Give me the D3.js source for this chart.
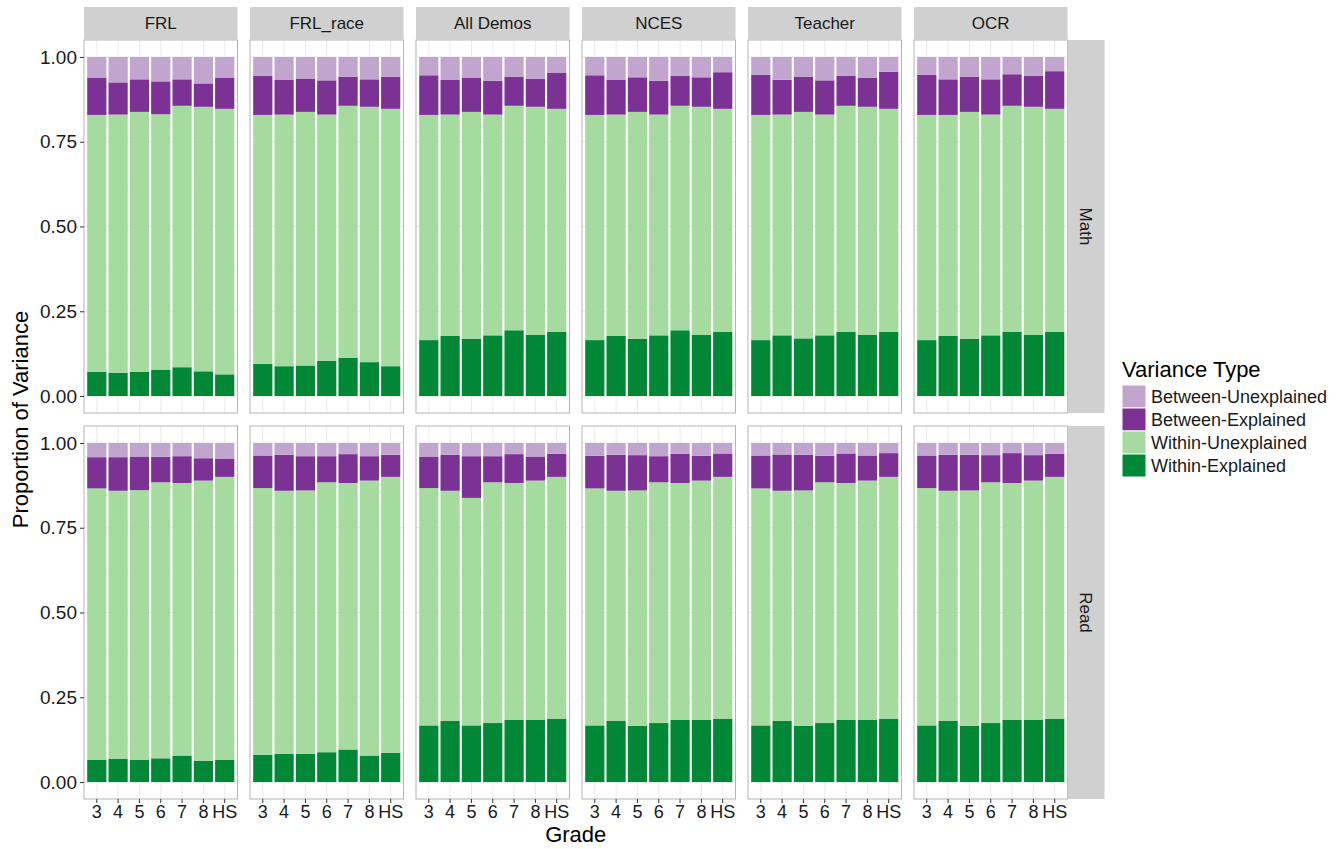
<!DOCTYPE html>
<html>
<head>
<meta charset="utf-8">
<script src="https://cdn.jsdelivr.net/npm/d3@7"></script>
<style>
  body { margin: 0; background: #fff; }
  svg { display: block; font-family: "Liberation Sans", Arial, sans-serif; }
</style>
</head>
<body>
<svg id="chart" width="1343" height="849"></svg>
<script>
// Facets and categories
const grades = ["3", "4", "5", "6", "7", "8", "HS"];
const models = ["FRL", "FRL_race", "All Demos", "NCES", "Teacher", "OCR"];
const subjects = ["Math", "Read"];
const varianceTypes = ["Between-Unexplained", "Between-Explained", "Within-Unexplained", "Within-Explained"];
const typeColors = ["#c2a5cf", "#7b3294", "#a6dba0", "#008837"];
const yTicks = [0, 0.25, 0.5, 0.75, 1];

// Cumulative tops of each stacked segment
// we = top of Within-Explained, wu = top of Within-Unexplained, be = top of Between-Explained
const mathWE = {
  "FRL":       [0.072, 0.069, 0.071, 0.078, 0.085, 0.073, 0.064],
  "FRL_race":  [0.095, 0.088, 0.090, 0.104, 0.113, 0.100, 0.088],
  "All Demos": [0.165, 0.178, 0.169, 0.179, 0.194, 0.180, 0.190],
  "NCES":      [0.165, 0.178, 0.169, 0.179, 0.194, 0.180, 0.190],
  "Teacher":   [0.165, 0.179, 0.170, 0.179, 0.190, 0.180, 0.190],
  "OCR":       [0.165, 0.178, 0.169, 0.179, 0.190, 0.180, 0.190]
};
const mathWU = {
  "FRL":       [0.829, 0.830, 0.838, 0.831, 0.856, 0.853, 0.847],
  "FRL_race":  [0.829, 0.830, 0.838, 0.830, 0.856, 0.853, 0.847],
  "All Demos": [0.829, 0.830, 0.838, 0.830, 0.856, 0.853, 0.847],
  "NCES":      [0.829, 0.830, 0.838, 0.830, 0.856, 0.853, 0.847],
  "Teacher":   [0.829, 0.830, 0.838, 0.830, 0.856, 0.853, 0.847],
  "OCR":       [0.829, 0.829, 0.838, 0.830, 0.856, 0.853, 0.847]
};
const mathBE = {
  "FRL":       [0.938, 0.925, 0.934, 0.928, 0.934, 0.922, 0.938],
  "FRL_race":  [0.945, 0.932, 0.935, 0.931, 0.942, 0.934, 0.942],
  "All Demos": [0.946, 0.932, 0.938, 0.930, 0.942, 0.936, 0.954],
  "NCES":      [0.946, 0.932, 0.940, 0.930, 0.944, 0.940, 0.955],
  "Teacher":   [0.947, 0.933, 0.941, 0.931, 0.945, 0.939, 0.956],
  "OCR":       [0.947, 0.934, 0.941, 0.934, 0.949, 0.944, 0.958]
};
const readWE = {
  "FRL":       [0.066, 0.069, 0.065, 0.070, 0.078, 0.063, 0.066],
  "FRL_race":  [0.081, 0.083, 0.083, 0.088, 0.096, 0.078, 0.086],
  "All Demos": [0.167, 0.180, 0.167, 0.174, 0.183, 0.183, 0.187],
  "NCES":      [0.167, 0.180, 0.166, 0.174, 0.183, 0.183, 0.187],
  "Teacher":   [0.167, 0.180, 0.166, 0.174, 0.183, 0.183, 0.187],
  "OCR":       [0.167, 0.180, 0.166, 0.174, 0.183, 0.183, 0.187]
};
const readWU = {
  "FRL":       [0.866, 0.859, 0.861, 0.884, 0.882, 0.889, 0.900],
  "FRL_race":  [0.867, 0.859, 0.860, 0.884, 0.882, 0.889, 0.900],
  "All Demos": [0.867, 0.859, 0.838, 0.884, 0.882, 0.889, 0.900],
  "NCES":      [0.866, 0.859, 0.860, 0.884, 0.882, 0.889, 0.900],
  "Teacher":   [0.866, 0.859, 0.860, 0.884, 0.882, 0.889, 0.900],
  "OCR":       [0.867, 0.859, 0.860, 0.884, 0.882, 0.889, 0.900]
};
const readBE = {
  "FRL":       [0.958, 0.958, 0.960, 0.959, 0.961, 0.955, 0.954],
  "FRL_race":  [0.963, 0.965, 0.961, 0.961, 0.967, 0.961, 0.965],
  "All Demos": [0.960, 0.965, 0.961, 0.961, 0.967, 0.960, 0.968],
  "NCES":      [0.962, 0.965, 0.964, 0.961, 0.968, 0.962, 0.969],
  "Teacher":   [0.963, 0.966, 0.965, 0.962, 0.969, 0.963, 0.970],
  "OCR":       [0.963, 0.965, 0.965, 0.964, 0.970, 0.964, 0.968]
};

const boundsBySubject = {
  Math: { we: mathWE, wu: mathWU, be: mathBE },
  Read: { we: readWE, wu: readWU, be: readBE }
};

const svg = d3.select("#chart");
const font_color = "#1a1a1a";
const tick_color = "#333333";
const small_size = 18, title_size = 22;

// Panel layout
const panelLeft = 84, panelStep = 166, panelW = 153.5;
const stripTop = 7, stripH = 33;
const rowTops = [40, 426], panelH = 373;
const rightStripW = 37;

const color = d3.scaleOrdinal().domain(varianceTypes).range(typeColors);

// Build segment rows from the cumulative tops
function segments(subject, model) {
  const b = boundsBySubject[subject];
  return grades.map((g, i) => {
    const we = b.we[model][i], wu = b.wu[model][i], be = b.be[model][i];
    return [
      { grade: g, type: "Within-Explained", y0: 0, y1: we },
      { grade: g, type: "Within-Unexplained", y0: we, y1: wu },
      { grade: g, type: "Between-Explained", y0: wu, y1: be },
      { grade: g, type: "Between-Unexplained", y0: be, y1: 1 }
    ];
  }).flat();
}

const x = d3.scaleBand().domain(grades).range([0, panelW]).paddingInner(0.1).paddingOuter(0.15);

subjects.forEach((subject, r) => {
  const top = rowTops[r];
  const y = d3.scaleLinear().domain([-0.05, 1.05]).range([top + panelH, top]);

  models.forEach((model, c) => {
    const left = panelLeft + c * panelStep;
    const g = svg.append("g").attr("transform", `translate(${left},0)`);

    // background + grid
    g.append("rect").attr("x", 0).attr("y", top).attr("width", panelW).attr("height", panelH)
      .attr("fill", "#ffffff");
    g.selectAll(".minor").data([0.125, 0.375, 0.625, 0.875]).join("line")
      .attr("x1", 0).attr("x2", panelW).attr("y1", d => y(d)).attr("y2", d => y(d))
      .attr("stroke", "#f2f2f2").attr("stroke-width", 0.5);
    g.selectAll(".major").data(yTicks).join("line")
      .attr("x1", 0).attr("x2", panelW).attr("y1", d => y(d)).attr("y2", d => y(d))
      .attr("stroke", "#ebebeb").attr("stroke-width", 1);
    g.selectAll(".vgrid").data(grades).join("line")
      .attr("x1", d => x(d) + x.bandwidth() / 2).attr("x2", d => x(d) + x.bandwidth() / 2)
      .attr("y1", top).attr("y2", top + panelH)
      .attr("stroke", "#ebebeb").attr("stroke-width", 1);

    // bars
    g.selectAll(".seg").data(segments(subject, model)).join("rect")
      .attr("x", d => x(d.grade))
      .attr("width", x.bandwidth())
      .attr("y", d => y(d.y1))
      .attr("height", d => y(d.y0) - y(d.y1))
      .attr("fill", d => color(d.type));

    // border
    g.append("rect").attr("x", 0).attr("y", top).attr("width", panelW).attr("height", panelH)
      .attr("fill", "none").attr("stroke", "#b5b5b5").attr("stroke-width", 1);

    // top strip
    if (r === 0) {
      g.append("rect").attr("x", 0).attr("y", stripTop).attr("width", panelW).attr("height", stripH)
        .attr("fill", "#d0d0d0");
      g.append("text").attr("x", panelW / 2).attr("y", stripTop + stripH / 2)
        .attr("dy", "0.35em").attr("text-anchor", "middle")
        .attr("font-size", small_size - 1).attr("fill", font_color).text(model);
    }

    // x axis at bottom row
    if (r === subjects.length - 1) {
      const xAxis = g.append("g").attr("transform", `translate(0,${top + panelH})`)
        .call(d3.axisBottom(x).tickSize(4).tickPadding(2));
      xAxis.select(".domain").remove();
      xAxis.selectAll("line").attr("stroke", tick_color);
      xAxis.selectAll("text").attr("font-size", small_size).attr("fill", font_color)
        .attr("font-family", "Liberation Sans, Arial, sans-serif");
    }

    // y axis at first column
    if (c === 0) {
      const yAxis = g.append("g")
        .call(d3.axisLeft(y).tickValues(yTicks).tickFormat(d3.format(".2f")).tickSize(4).tickPadding(3));
      yAxis.select(".domain").remove();
      yAxis.selectAll("line").attr("stroke", tick_color);
      yAxis.selectAll("text").attr("font-size", small_size + 1).attr("fill", font_color)
        .attr("font-family", "Liberation Sans, Arial, sans-serif");
    }
  });

  // right strip
  const sx = panelLeft + (models.length - 1) * panelStep + panelW;
  svg.append("rect").attr("x", sx).attr("y", top).attr("width", rightStripW).attr("height", panelH)
    .attr("fill", "#d0d0d0");
  svg.append("text")
    .attr("transform", `translate(${sx + rightStripW / 2},${top + panelH / 2}) rotate(90)`)
    .attr("dy", "0.35em").attr("text-anchor", "middle")
    .attr("font-size", small_size - 1).attr("fill", font_color).text(subject);
});

// Axis titles
const plotMidX = panelLeft + ((models.length - 1) * panelStep + panelW) / 2;
svg.append("text").attr("x", plotMidX).attr("y", 842)
  .attr("text-anchor", "middle").attr("font-size", title_size).attr("fill", "#000").text("Grade");
svg.append("text")
  .attr("transform", `translate(28,${(rowTops[0] + rowTops[1] + panelH) / 2}) rotate(-90)`)
  .attr("text-anchor", "middle").attr("font-size", title_size).attr("fill", "#000")
  .text("Proportion of Variance");

// Legend
const legend = svg.append("g").attr("transform", "translate(1122,0)");
legend.append("text").attr("x", 0).attr("y", 377)
  .attr("font-size", title_size).attr("fill", "#000").text("Variance Type");
const items = legend.selectAll(".legend-item").data(varianceTypes).join("g")
  .attr("class", "legend-item")
  .attr("transform", (d, i) => `translate(0,${385 + i * 23})`);
items.append("rect").attr("width", 24).attr("height", 23)
  .attr("fill", d => color(d)).attr("stroke", "#fff").attr("stroke-width", 1);
items.append("text").attr("x", 29).attr("y", 11.5).attr("dy", "0.35em")
  .attr("font-size", small_size).attr("fill", font_color).text(d => d);
</script>
</body>
</html>
